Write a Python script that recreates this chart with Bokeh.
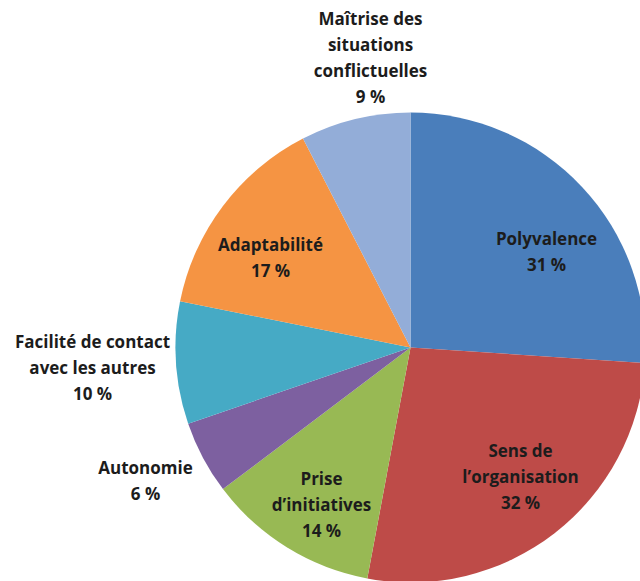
import numpy as np
from bokeh.plotting import figure
from bokeh.models import ColumnDataSource, Range1d
from bokeh.core.properties import value
from bokeh.embed import file_html
from bokeh.resources import INLINE

# ---- data ----
categories = ["Polyvalence", "Sens de l'organisation", "Prise d'initiatives",
              "Autonomie", "Facilité de contact avec les autres",
              "Adaptabilité", "Maîtrise des situations conflictuelles"]
values = [31, 32, 14, 6, 10, 17, 9]
label_lines = [["Polyvalence", "31 %"],
               ["Sens de", "l\u2019organisation", "32 %"],
               ["Prise", "d\u2019initiatives", "14 %"],
               ["Autonomie", "6 %"],
               ["Facilité de contact", "avec les autres", "10 %"],
               ["Adaptabilité", "17 %"],
               ["Maîtrise des", "situations", "conflictuelles", "9 %"]]
colors = ["#4A7EBB", "#BE4B48", "#98B954", "#7D60A0", "#46AAC5", "#F59443", "#93ADD8"]

# ---- layout (pixels) ----
W, H = 640, 581
cx, cy, R = 410, 347, 235
label_anchor = [(546, 238), (520, 450), (321, 478), (145, 467), (92, 341), (270, 244), (370, 18)]
line_h = 26

p = figure(width=W, height=H, output_backend="svg", toolbar_location=None,
           x_range=Range1d(0, W), y_range=Range1d(0, H), min_border=0)
p.axis.visible = False
p.grid.visible = False
p.outline_line_color = None
p.background_fill_color = "white"
p.border_fill_color = "white"

v = np.array(values, dtype=float)
frac = v / v.sum()
cum = np.cumsum(frac)
before = cum - frac
start = np.pi / 2 - cum * 2 * np.pi
end = np.pi / 2 - before * 2 * np.pi

src = ColumnDataSource(dict(x=[cx] * len(values), y=[H - cy] * len(values),
                            start=start, end=end, color=colors, cat=categories))
p.wedge(x="x", y="y", radius=R, radius_units="data", start_angle="start",
        end_angle="end", direction="anticlock", fill_color="color",
        line_color=None, source=src)

tx, ty, tt = [], [], []
for (ax, ay), lines in zip(label_anchor, label_lines):
    for i, ln in enumerate(lines):
        tx.append(ax)
        ty.append(H - (ay + i * line_h))
        tt.append(ln)
tsrc = ColumnDataSource(dict(x=tx, y=ty, text=tt))
p.text(x="x", y="y", text="text", source=tsrc, text_align="center",
       text_baseline="middle", text_font=value("Open Sans"),
       text_font_style="bold", text_font_size="17px", text_color="#1c1c1c")

open("out.html", "w").write(file_html(p, INLINE))
